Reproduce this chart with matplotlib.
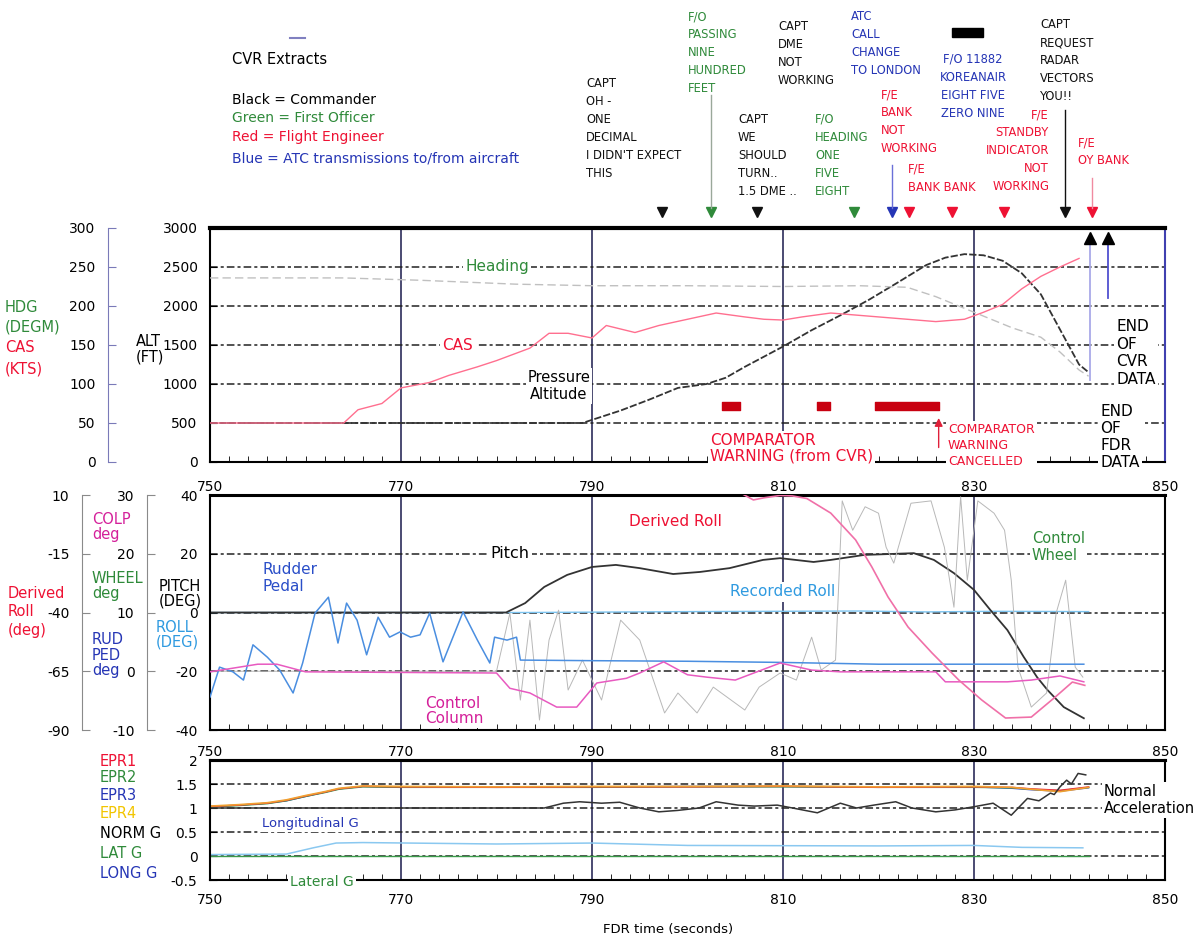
import matplotlib
matplotlib.use('Agg')
import matplotlib.pyplot as plt
from matplotlib.lines import Line2D
from matplotlib.ticker import MultipleLocator, FixedLocator, FormatStrFormatter

plt.rcParams['font.family'] = ['DejaVu Sans']

# ---- data (FDR time in seconds) ----
time_ticks = [750, 770, 790, 810, 830, 850]

# top panel
alt_t = [750, 789, 790, 793, 796, 799, 802, 804, 806, 808, 810, 813, 816, 819, 822, 825,
         827, 829, 831, 833, 835, 837, 839, 841, 842]
alt_ft = [500, 500, 540, 660, 800, 950, 1000, 1080, 1220, 1350, 1480, 1690, 1880, 2080, 2300, 2525,
          2620, 2665, 2650, 2580, 2420, 2150, 1700, 1250, 1150]

cas_t = [750, 764, 765.5, 768, 770, 773, 775, 778, 780, 783.5, 785.5, 787.5, 790, 791.5, 794.5,
         797, 800, 803, 806, 808, 810, 812, 815, 818, 820, 823, 826, 829, 831, 833, 835, 837, 839, 841]
cas_kts = [50, 50, 67, 75, 95, 102, 111, 122, 130, 146, 165, 165, 159, 175, 166,
           175, 183, 191, 186, 183, 182, 186, 191, 188, 186, 183, 180, 183, 192, 202, 222, 238, 250, 261]

hdg_t = [750, 764, 772, 782, 790, 800, 810, 818, 823, 826, 829, 831, 834, 837, 839, 841, 842]
hdg_deg = [236, 236, 233, 228, 226, 226, 225, 226, 224, 212, 197, 187, 172, 160, 141, 118, 110]

comp_start = [803.6, 813.6, 819.6]
comp_end = [805.5, 814.9, 826.3]
comp_cancel_t = 826.3
data_end_t = [842.1, 844.0]

cvr_times = [797.3, 802.5, 807.3, 817.4, 821.4, 823.2, 827.7, 833.1, 839.5, 842.4]
cvr_speaker = ['CAPT', 'F/O', 'CAPT', 'F/O', 'ATC', 'F/E', 'F/E', 'F/E', 'CAPT', 'F/E']

# middle panel
pitch_t = [750, 781, 783, 785, 787.4, 790, 792.5, 795, 798.5, 801.3, 804.4, 807.9, 809.7, 813.2,
           815, 818.5, 823.7, 825.8, 827.9, 830, 831.7, 833.5, 835.2, 836.6, 837.7, 839.4, 841.5]
pitch_deg = [0, 0, 3.2, 8.7, 12.8, 15.5, 16.2, 15.1, 13.1, 13.8, 15.1, 17.9, 18.5, 17.2,
             17.9, 19.6, 20.2, 17.9, 13.4, 7.7, 0.9, -6, -15.1, -22, -26.4, -32.2, -36]

droll_t = [805.5, 806.9, 808, 809.7, 811, 812.5, 815, 817.6, 819.3, 821, 823.1, 825.6, 828.4, 830.8,
           833.3, 836, 838.5, 840.3, 841.6]
droll_deg = [11, 7.9, 8.8, 9.8, 9.6, 8.5, 2.3, -9.1, -20.6, -33.4, -46.2, -57.2, -68.7, -77.2,
             -84.9, -84.5, -76, -69.6, -71]

rroll_t = [750, 783, 800, 818, 825, 832, 842]
rroll_deg = [0, 0, 0.3, 0.5, 0.2, 0.4, 0.3]

rud_t = [750, 751, 752.4, 753.5, 754.5, 756, 757.3, 758.7, 759.7, 761, 762.4, 763.4, 764.3, 765.4,
         766.4, 767.6, 768.8, 769.9, 771, 772, 773, 774.4, 776.5, 778, 779.3, 779.8, 781.1, 782.1,
         782.5, 790, 800, 810, 820, 830, 841.5]
rud_deg = [-4.4, 0.7, -0.1, -1.5, 4.5, 2.4, 0.2, -3.7, 1.4, 9.9, 12.6, 4.8, 11.6, 8.7,
           2.8, 9.2, 5.8, 6.7, 5.8, 6.2, 9.9, 1.6, 10.1, 5.3, 1.4, 5.8, 5.3, 5.8,
           1.9, 1.8, 1.7, 1.5, 1.2, 1.2, 1.2]

colp_t = [750, 755, 757, 760, 780, 781.4, 783.5, 786.3, 788.4, 790.5, 793.6, 795, 797.5, 800, 802,
          805, 809.7, 813, 816, 820, 826, 827, 833.5, 836, 839, 841.5]
colp_deg = [-0.1, 1.2, 1.2, -0.1, -0.3, -2.9, -3.7, -6.1, -6.1, -2.0, -1.2, -0.3, 1.6, -0.6, -1.0,
            -1.5, 1.4, 0.2, -0.1, -0.1, -0.1, -1.8, -1.8, -1.5, -0.8, -1.8]

wheel_t = [750, 780, 781.4, 782.5, 783.5, 784.5, 785.5, 786.5, 787.5, 789, 791, 793, 795, 797.6,
           799, 801, 802.7, 806, 807.5, 809.7, 811.4, 813, 814, 815.5, 816.2, 817.3, 818.6, 820,
           820.8, 821.6, 823.4, 825.5, 826.9, 827.9, 828.6, 829.3, 830.4, 832.1, 833.2, 833.9,
           834.6, 836, 837.6, 838.6, 839.6, 840.6, 841.4]
wheel_deg = [0, 0, 9.9, -4.9, 8.7, -8.3, 5.3, 10.4, -3.2, 1.9, -4.9, 8.7, 5.3, -7.1,
             -3.7, -7.1, -2.7, -6.6, -2.7, -0.3, -1.5, 5.8, 0.2, 1.9, 29, 24, 28, 26.9,
             21.1, 18.4, 28.6, 29, 21.1, 10.9, 29.7, 15.5, 29, 26.9, 24, 15.5,
             0.7, -6.1, -3.7, 9.9, 15.5, 0.7, -1]

# bottom panel
epr_t = [750, 753, 756, 758, 760, 762, 763.5, 766, 770, 780, 790, 800, 810, 820, 830, 834, 836, 839, 842]
epr1 = [1.03, 1.06, 1.10, 1.16, 1.25, 1.33, 1.40, 1.45, 1.44, 1.43, 1.44, 1.44, 1.45, 1.43, 1.44, 1.43, 1.40, 1.37, 1.44]
epr2 = [1.02, 1.05, 1.09, 1.15, 1.24, 1.32, 1.39, 1.44, 1.43, 1.43, 1.43, 1.44, 1.44, 1.43, 1.43, 1.42, 1.39, 1.36, 1.43]
epr3 = [1.03, 1.06, 1.10, 1.15, 1.24, 1.33, 1.40, 1.45, 1.44, 1.44, 1.44, 1.45, 1.45, 1.44, 1.44, 1.41, 1.38, 1.35, 1.42]
epr4 = [1.04, 1.07, 1.11, 1.17, 1.26, 1.34, 1.41, 1.46, 1.45, 1.44, 1.45, 1.45, 1.46, 1.44, 1.45, 1.43, 1.39, 1.34, 1.43]

norm_g_t = [750, 785, 787, 788.7, 791, 792.9, 795, 797, 799, 801.2, 803, 805.3, 807, 809.4, 811,
            813.6, 816, 817.7, 819.5, 821.8, 823.5, 826, 828, 830.1, 832, 833.9, 835.6, 836.8,
            838, 838.4, 839, 839.7, 840.2, 840.9, 841.7]
norm_g = [1.0, 1.0, 1.1, 1.13, 1.1, 1.12, 1.0, 0.92, 0.95, 1.0, 1.13, 1.06, 1.04, 1.06, 1.0,
          0.9, 1.1, 1.0, 1.06, 1.13, 1.0, 0.92, 0.96, 1.03, 1.1, 0.85, 1.2, 1.15,
          1.31, 1.28, 1.44, 1.58, 1.5, 1.72, 1.69]

long_g_t = [750, 758, 760.8, 763.2, 766, 780, 790, 800, 820, 830, 835, 841.4]
long_g = [0.03, 0.04, 0.17, 0.27, 0.28, 0.25, 0.27, 0.22, 0.21, 0.22, 0.18, 0.17]

lat_g_t = [750, 842]
lat_g = [0.01, 0.01]

# ---- layout ----
W, H = 1203, 944
fig = plt.figure(figsize=(W / 100, H / 100), dpi=100)


def box(x0, y0, x1, y1):
    return [x0 / W, 1 - y1 / H, (x1 - x0) / W, (y1 - y0) / H]


def px(x, y):
    return x / W, 1 - y / H


GREEN = '#2f8a3a'
RED = '#ee1133'
BLUE = '#2535b5'
MAGENTA = '#d4209a'
LBLUE = '#2f9ae0'
speaker_color = {'CAPT': '#111111', 'F/O': GREEN, 'ATC': BLUE, 'F/E': RED}
GRID_DASH = (0, (5, 2, 2, 2))
TICK_FS = 10

ax1 = fig.add_axes(box(210, 228, 1165, 462))
ax2 = fig.add_axes(box(210, 495, 1165, 730))
ax3 = fig.add_axes(box(210, 760, 1165, 880))


def style_main(ax, lo, hi, step):
    ax.set_xlim(750, 850)
    ax.set_ylim(lo, hi)
    ax.xaxis.set_major_locator(FixedLocator(time_ticks))
    ax.xaxis.set_minor_locator(MultipleLocator(2))
    ax.yaxis.set_major_locator(MultipleLocator(step))
    ax.yaxis.set_major_formatter(FormatStrFormatter('%g'))
    ax.tick_params(axis='both', which='both', direction='in', labelsize=TICK_FS)
    ax.tick_params(axis='y', length=5, pad=9)
    ax.tick_params(axis='x', which='minor', length=4, top=False)
    ax.tick_params(axis='x', which='major', length=0)
    ax.grid(axis='x', color='#2c2c5a', lw=1.2, ls='-')
    ax.grid(axis='y', color='#222222', lw=1.1, ls=GRID_DASH)
    for s in ax.spines.values():
        s.set_linewidth(1.5)
    ax.spines['top'].set_linewidth(2.2)


def side_axis(ax, lo, hi, xpix, ticks, color):
    tw = ax.twinx()
    tw.set_ylim(lo, hi)
    for s in ['right', 'top', 'bottom']:
        tw.spines[s].set_visible(False)
    tw.spines['left'].set_visible(True)
    tw.spines['left'].set_position(('axes', (xpix - 210) / 955))
    tw.spines['left'].set_color(color)
    tw.yaxis.tick_left()
    tw.yaxis.set_major_locator(FixedLocator(ticks))
    tw.yaxis.set_major_formatter(FormatStrFormatter('%g'))
    tw.tick_params(axis='y', direction='in', length=6, pad=9, labelsize=TICK_FS, color=color)
    return tw


# ---- top panel: altitude, CAS, heading ----
style_main(ax1, 0, 3000, 500)
ax1.spines['top'].set_linewidth(3)
ax1.spines['right'].set_color('#4040b0')
ax1.tick_params(axis='x', labelbottom=False)
ax1b = side_axis(ax1, 0, 300, 108, [0, 50, 100, 150, 200, 250, 300], '#7a7ab8')

ax1.plot(alt_t, alt_ft, color='#333333', lw=1.3, ls=(0, (4, 1.2)))
ax1b.plot(cas_t, cas_kts, color='#ff6f8f', lw=1.0)
ax1b.plot(hdg_t, hdg_deg, color='#c0c0c0', lw=1.0, ls=(0, (6, 3)))
ax1.broken_barh([(s, e - s) for s, e in zip(comp_start, comp_end)], (665, 105), color='#c80010')
ax1.annotate('', xy=(comp_cancel_t, 600), xytext=(comp_cancel_t, 150),
             arrowprops=dict(arrowstyle='-|>', color='#e0203a', lw=1, mutation_scale=12))
ax1.plot([data_end_t[0]] * 2, [1050, 2800], color='#a9a9e8', lw=1.3)
ax1.plot([data_end_t[1]] * 2, [2100, 2800], color='#5050d0', lw=1.3)
ax1.plot(data_end_t, [2870, 2870], ls='none', marker='^', ms=8, color='black')

# CVR event markers above the top panel
xt = ax1.get_xaxis_transform()
for t, who in zip(cvr_times, cvr_speaker):
    ax1.plot([t], [1.068], marker='v', ms=7, color=speaker_color[who],
             transform=xt, clip_on=False)
for t, y0, col in [(cvr_times[1], 95, '#9aa89a'), (cvr_times[4], 165, '#6a70d8'),
                   (cvr_times[8], 110, '#111111'), (cvr_times[9], 178, '#f08aa0')]:
    ax1.plot([t, t], [(462 - y0) / 234, 1.085], color=col, lw=1, transform=xt, clip_on=False)

# ---- middle panel: pitch, roll, controls ----
style_main(ax2, -40, 40, 20)
ax2.tick_params(axis='x', labeltop=True, labelbottom=False, pad=1)
ax2b = side_axis(ax2, -10, 30, 147, [-10, 0, 10, 20, 30], '#8a8a8a')
ax2c = side_axis(ax2, -90, 10, 82, [10, -15, -40, -65, -90], '#8a8a8a')

ax2b.plot(wheel_t, wheel_deg, color='#b8b8b8', lw=0.7)
ax2.plot(rroll_t, rroll_deg, color='#7cc4f0', lw=1.0)
ax2b.plot(rud_t, rud_deg, color='#4a8ee0', lw=1.1)
ax2b.plot(colp_t, colp_deg, color='#e85ac0', lw=1.1)
ax2c.plot(droll_t, droll_deg, color='#f070a8', lw=1.2)
ax2.plot(pitch_t, pitch_deg, color='#333333', lw=1.3)

# ---- bottom panel: EPR and accelerations ----
style_main(ax3, -0.5, 2, 0.5)
ax3.tick_params(axis='x', labelbottom=True, pad=9)
ax3_top = ax3.secondary_xaxis('top')
ax3_top.set_xticks(time_ticks)
ax3_top.tick_params(length=0, pad=1, labelsize=TICK_FS)
ax3_top.spines['top'].set_linewidth(2.2)

ax3.plot(lat_g_t, lat_g, color='#3a9a4a', lw=1.0)
ax3.plot(long_g_t, long_g, color='#8ac8f0', lw=1.1)
ax3.plot(epr_t, epr3, color='#3050d0', lw=1.0)
ax3.plot(epr_t, epr2, color='#3a9a4a', lw=1.0)
ax3.plot(epr_t, epr1, color='#ee3040', lw=1.0)
ax3.plot(epr_t, epr4, color='#f0a030', lw=1.2)
ax3.plot(norm_g_t, norm_g, color='#333333', lw=1.1)


# ---- text ----
def label(x, y, s, color='black', size=10.5, ha='left', va='center', bg=False, lsp=1.2):
    kw = dict(color=color, fontsize=size, ha=ha, va=va, linespacing=lsp, multialignment=ha)
    if bg:
        kw['bbox'] = dict(facecolor='white', edgecolor='none', pad=1.5)
    fig.text(*px(x, y), s, **kw)


# CVR legend
label(232, 60, 'CVR Extracts', size=10.5)
label(232, 100, 'Black = Commander', size=10)
label(232, 118, 'Green = First Officer', GREEN, size=10)
label(232, 137, 'Red = Flight Engineer', RED, size=10)
label(232, 158, 'Blue = ATC transmissions to/from aircraft', BLUE, size=10)
fig.add_artist(Line2D([290 / W, 305 / W], [1 - 38 / H] * 2, color='#8080c0', lw=1.5))

# CVR extracts
notes = [
    ("CAPT\nOH -\nONE\nDECIMAL\nI DIDN'T EXPECT\nTHIS", 586, 77, 'CAPT', 'left'),
    ("F/O\nPASSING\nNINE\nHUNDRED\nFEET", 688, 10, 'F/O', 'left'),
    ("CAPT\nDME\nNOT\nWORKING", 778, 20, 'CAPT', 'left'),
    ("CAPT\nWE\nSHOULD\nTURN..\n1.5 DME ..", 738, 113, 'CAPT', 'left'),
    ("ATC\nCALL\nCHANGE\nTO LONDON", 851, 10, 'ATC', 'left'),
    ("F/O\nHEADING\nONE\nFIVE\nEIGHT", 815, 113, 'F/O', 'left'),
    ("F/O 11882\nKOREANAIR\nEIGHT FIVE\nZERO NINE", 973, 53, 'ATC', 'center'),
    ("F/E\nBANK\nNOT\nWORKING", 881, 88, 'F/E', 'left'),
    ("F/E\nBANK BANK", 908, 163, 'F/E', 'left'),
    ("F/E\nSTANDBY\nINDICATOR\nNOT\nWORKING", 1049, 108, 'F/E', 'right'),
    ("CAPT\nREQUEST\nRADAR\nVECTORS\nYOU!!", 1040, 18, 'CAPT', 'left'),
    ("F/E\nOY BANK", 1078, 136, 'F/E', 'left'),
]
for s, x, y, who, ha in notes:
    label(x, y, s, speaker_color[who], size=8.3, ha=ha, va='top', lsp=1.5)
fig.add_artist(plt.Rectangle((952 / W, 1 - 37 / H), 31 / W, 9 / H, color='black'))

# top panel texts
label(497, 266, 'Heading', GREEN, size=11, ha='center', bg=True)
label(458, 345, 'CAS', RED, size=11, ha='center', bg=True)
label(559, 386, 'Pressure\nAltitude', size=10.5, ha='center', bg=True, lsp=1.15)
label(710, 448, 'COMPARATOR\nWARNING (from CVR)', RED, size=11, bg=True, lsp=1.05)
label(948, 446, 'COMPARATOR\nWARNING\nCANCELLED', RED, size=9, bg=True, lsp=1.3)
label(1116, 353, 'END\nOF\nCVR\nDATA', size=11, bg=True, lsp=1.2)
label(1100, 437, 'END\nOF\nFDR\nDATA', size=11, bg=True, lsp=1.15)

label(5, 307, 'HDG', GREEN)
label(5, 327, '(DEGM)', GREEN)
label(5, 348, 'CAS', RED)
label(5, 369, '(KTS)', RED)
label(136, 349, 'ALT\n(FT)', size=10.5, lsp=1.0)

# middle panel texts
label(675, 522, 'Derived Roll', RED, size=11, ha='center', bg=True)
label(510, 553, 'Pitch', size=11.5, ha='center', bg=True)
label(263, 578, 'Rudder\nPedal', '#2a4ec8', size=11, bg=True, lsp=1.1)
label(730, 592, 'Recorded Roll', LBLUE, size=11, bg=True)
label(1032, 547, 'Control\nWheel', GREEN, size=10.5, bg=True, lsp=1.1)
label(425, 711, 'Control\nColumn', MAGENTA, size=11, bg=True, lsp=1.05)

label(92, 527, 'COLP\ndeg', MAGENTA, lsp=1.0)
label(92, 586, 'WHEEL\ndeg', GREEN, lsp=1.0)
label(92, 655, 'RUD\nPED\ndeg', BLUE, lsp=1.0)
label(8, 593, 'Derived', RED)
label(8, 612, 'Roll', RED)
label(8, 631, '(deg)', RED)
label(159, 594, 'PITCH\n(DEG)', size=10.5, lsp=0.95)
label(156, 635, 'ROLL\n(DEG)', LBLUE, size=10.5, lsp=0.95)

# bottom panel texts
label(262, 823, 'Longitudinal G', BLUE, size=9.5, bg=True)
label(290, 882, 'Lateral G', GREEN, size=10, bg=True)
label(1104, 800, 'Normal\nAcceleration', size=10.5, bg=True, lsp=1.1)

for s, y, c in [('EPR1', 761, RED), ('EPR2', 778, GREEN), ('EPR3', 796, BLUE), ('EPR4', 814, '#f2c500'),
                ('NORM G', 833, 'black'), ('LAT G', 853, GREEN), ('LONG G', 873, BLUE)]:
    label(100, y, s, c, size=10.5)

label(668, 930, 'FDR time (seconds)', size=9.5, ha='center')

fig.savefig('out.png', dpi=100)
